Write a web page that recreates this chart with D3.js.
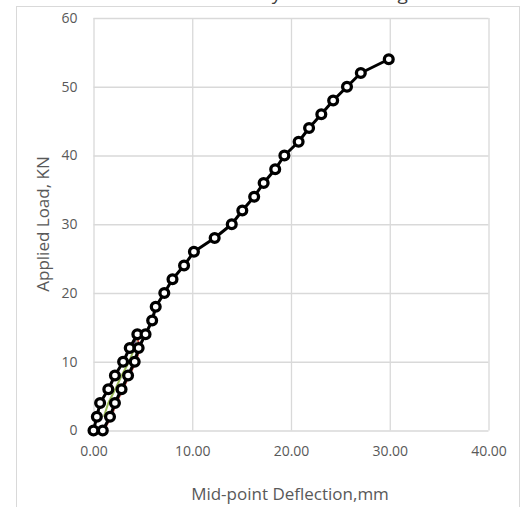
<!DOCTYPE html>
<html>
<head>
<meta charset="utf-8">
<script src="https://cdn.jsdelivr.net/npm/d3@7"></script>
<style>
  html, body { margin: 0; padding: 0; background: #fff; }
  svg { display: block; font-family: "Open Sans", "Noto Sans", sans-serif; }
</style>
</head>
<body>
<svg id="chart" width="529" height="507"></svg>
<script>
// Load steps (kN) and mid-point deflections (mm)
const firstCycleLoad = [0, 2, 4, 6, 8, 10, 12, 14];
const firstCycleDefl = [0.00, 0.34, 0.67, 1.50, 2.17, 3.00, 3.67, 4.44];

const finalLoad = [0, 2, 4, 6, 8, 10, 12, 14, 16, 18, 20, 22, 24, 26,
                   28, 30, 32, 34, 36, 38, 40, 42, 44, 46, 48, 50, 52, 54];
const finalDefl = [0.94, 1.67, 2.17, 2.84, 3.50, 4.17, 4.57, 5.27, 5.94, 6.30,
                   7.17, 8.00, 9.17, 10.17, 12.27, 14.00, 15.07, 16.27, 17.23, 18.40,
                   19.33, 20.77, 21.83, 23.07, 24.27, 25.67, 27.07, 29.90];

// Intermediate unload / reload passes, mostly covered by the final curve
const unloadLoad = [14, 12, 10, 8, 6, 4, 2, 0];
const unloadDefl = [4.35, 4.70, 4.30, 3.62, 2.97, 2.30, 1.80, 1.02];
const midLoad = [2, 4, 6, 8, 10, 12, 14];
const midDefl = [1.05, 1.50, 2.20, 2.85, 3.60, 4.15, 4.40];
const topLoad = [12, 14];
const topDefl = [4.05, 4.38];

const xTicks = [0, 10, 20, 30, 40];
const yTicks = [0, 10, 20, 30, 40, 50, 60];

const svg = d3.select("#chart");
const grey = "#595959";
const gridColor = "#d9d9d9";

const x = d3.scaleLinear().domain([0, 40]).range([93.5, 488.5]);
const y = d3.scaleLinear().domain([0, 60]).range([430.5, 18]);

// Chart frame
svg.append("rect")
  .attr("x", 16.5).attr("y", 6.5)
  .attr("width", 503).attr("height", 520)
  .attr("fill", "#fff").attr("stroke", gridColor).attr("stroke-width", 1);

// Title (runs off the top edge)
svg.append("text")
  .attr("x", 63).attr("y", 0)
  .attr("font-size", 19)
  .attr("fill", "#404040")
  .text("Load deflection under cycles of loading");

// Gridlines
svg.append("g")
  .attr("transform", `translate(0,${y(0)})`)
  .call(d3.axisBottom(x).tickValues(xTicks).tickSize(-(y(0) - y(60))).tickFormat(""))
  .call(g => g.select(".domain").remove())
  .call(g => g.selectAll("line").attr("stroke", gridColor).attr("stroke-width", 1.3));

svg.append("g")
  .attr("transform", `translate(${x(0)},0)`)
  .call(d3.axisLeft(y).tickValues(yTicks).tickSize(-(x(40) - x(0))).tickFormat(""))
  .call(g => g.select(".domain").remove())
  .call(g => g.selectAll("line").attr("stroke", gridColor).attr("stroke-width", 1.3));

// Tick labels
const xAxis = svg.append("g")
  .attr("transform", `translate(0,${y(0)})`)
  .call(d3.axisBottom(x).tickValues(xTicks).tickSize(0).tickPadding(16).tickFormat(d3.format(".2f")));
xAxis.select(".domain").remove();
xAxis.selectAll("text").attr("font-size", 14).attr("fill", grey)
  .attr("font-family", "'Open Sans', sans-serif");

const yAxis = svg.append("g")
  .attr("transform", `translate(${x(0)},0)`)
  .call(d3.axisLeft(y).tickValues(yTicks).tickSize(0).tickPadding(16));
yAxis.select(".domain").remove();
yAxis.selectAll("text").attr("font-size", 14).attr("fill", grey)
  .attr("font-family", "'Open Sans', sans-serif");

// Axis titles
svg.append("text")
  .attr("x", 290).attr("y", 500)
  .attr("text-anchor", "middle")
  .attr("font-size", 17).attr("fill", grey)
  .text("Mid-point Deflection,mm");

svg.append("text")
  .attr("transform", `translate(49,224) rotate(-90)`)
  .attr("text-anchor", "middle")
  .attr("font-size", 17).attr("fill", grey)
  .text("Applied Load, KN");

const line = d3.line().x(d => x(d[0])).y(d => y(d[1]));
const pairs = (xs, ys) => xs.map((v, i) => [v, ys[i]]);

// Thin underlying passes
[[unloadDefl, unloadLoad, "#c0504d"],
 [midDefl, midLoad, "#9bbb59"],
 [topDefl, topLoad, "#8064a2"]].forEach(([dx, ly, c]) => {
  svg.append("path")
    .datum(pairs(dx, ly))
    .attr("fill", "none").attr("stroke", c).attr("stroke-width", 2)
    .attr("d", line);
});

// Main black curves with hollow markers
[[firstCycleDefl, firstCycleLoad], [finalDefl, finalLoad]].forEach(([dx, ly]) => {
  const pts = pairs(dx, ly);
  svg.append("path")
    .datum(pts)
    .attr("fill", "none").attr("stroke", "#000").attr("stroke-width", 3)
    .attr("stroke-linejoin", "round")
    .attr("d", line);
  svg.append("g").selectAll("circle")
    .data(pts)
    .join("circle")
    .attr("cx", d => x(d[0])).attr("cy", d => y(d[1]))
    .attr("r", 4.4)
    .attr("fill", "#fff").attr("stroke", "#000").attr("stroke-width", 3.3);
});
</script>
</body>
</html>
